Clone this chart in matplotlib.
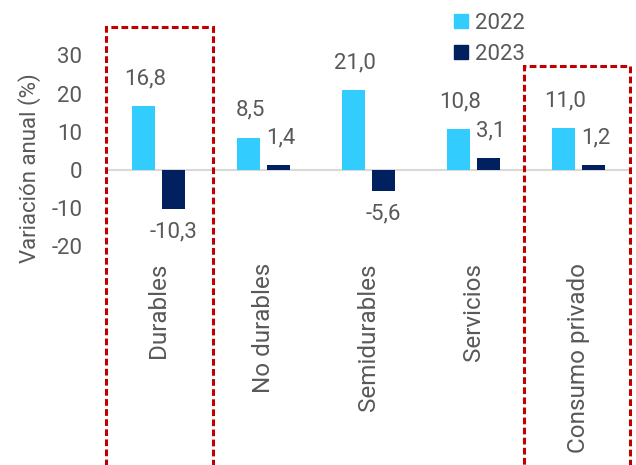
import numpy as np
import matplotlib
matplotlib.use("Agg")
import matplotlib.pyplot as plt
from matplotlib.patches import Rectangle, Patch

# --- DATA ---
categories = ["Durables", "No durables", "Semidurables", "Servicios", "Consumo privado"]
series_names = ["2022", "2023"]
values_2022 = [16.8, 8.5, 21.0, 10.8, 11.0]
values_2023 = [-10.3, 1.4, -5.6, 3.1, 1.2]
y_ticks = [-20, -10, 0, 10, 20, 30]

# --- STYLE ---
plt.rcParams['font.family'] = ['Roboto', 'DejaVu Sans']
GREY = "#595959"
LIGHT = "#33CCFF"
DARK = "#002060"
RED = "#C00000"
FS = 16

fig = plt.figure(figsize=(6.36, 4.65), dpi=100)
ax = fig.add_axes([0.1667, 0.4701, 0.8255, 0.4108])

x = np.arange(len(categories))
width = 0.22
offset = 0.145

bars1 = ax.bar(x - offset, values_2022, width, color=LIGHT, label=series_names[0], zorder=3)
bars2 = ax.bar(x + offset, values_2023, width, color=DARK, label=series_names[1], zorder=3)

# data labels (decimal comma)
for bars in (bars1, bars2):
    for b in bars:
        v = b.get_height()
        txt = f"{v:.1f}".replace(".", ",")
        if v >= 0:
            ax.annotate(txt, (b.get_x() + b.get_width() / 2, v), xytext=(1.5, 12),
                        textcoords="offset points", ha="center", va="bottom",
                        fontsize=FS, color=GREY)
        else:
            ax.annotate(txt, (b.get_x() + b.get_width() / 2, v), xytext=(0, -9),
                        textcoords="offset points", ha="center", va="top",
                        fontsize=FS, color=GREY)

ax.axhline(0, color="#D9D9D9", lw=1.5, zorder=2)

ax.set_xlim(-0.5, 4.5)
ax.set_ylim(-20, 30)
ax.set_yticks(y_ticks)
ax.set_yticklabels([str(t) for t in y_ticks])
ax.set_xticks(x)
ax.set_xticklabels(categories, rotation=90, va="top", ha="center")
ax.tick_params(axis="x", length=0, pad=12, labelsize=17.5, labelcolor=GREY)
ax.tick_params(axis="y", length=0, pad=17, labelsize=FS, labelcolor=GREY)
for s in ax.spines.values():
    s.set_visible(False)

# y label placed by hand, as in the source
fig.text(30 / 636, 1 - 168 / 465, "Variación anual (%)", rotation=90,
         ha="center", va="center", fontsize=FS, color=GREY)

# highlighted groups (dashed boxes)
dash = (0, (2.2, 1.1))
ax.add_patch(Rectangle((-0.5, -300), 1.02, 300 + 37.4, fill=False, ec=RED,
                       lw=2.2, ls=dash, clip_on=False, zorder=4))
ax.add_patch(Rectangle((3.48, -300), 1.01, 300 + 27.2, fill=False, ec=RED,
                       lw=2.2, ls=dash, clip_on=False, zorder=4))

handles = [Patch(color=LIGHT), Patch(color=DARK)]
fig.legend(handles, series_names, loc="upper left", bbox_to_anchor=(0.683, 1.015),
           frameon=False, fontsize=FS, labelcolor=GREY, handlelength=0.6,
           handleheight=0.6, handletextpad=0.35, labelspacing=0.45)

fig.savefig("out.png", dpi=100)
